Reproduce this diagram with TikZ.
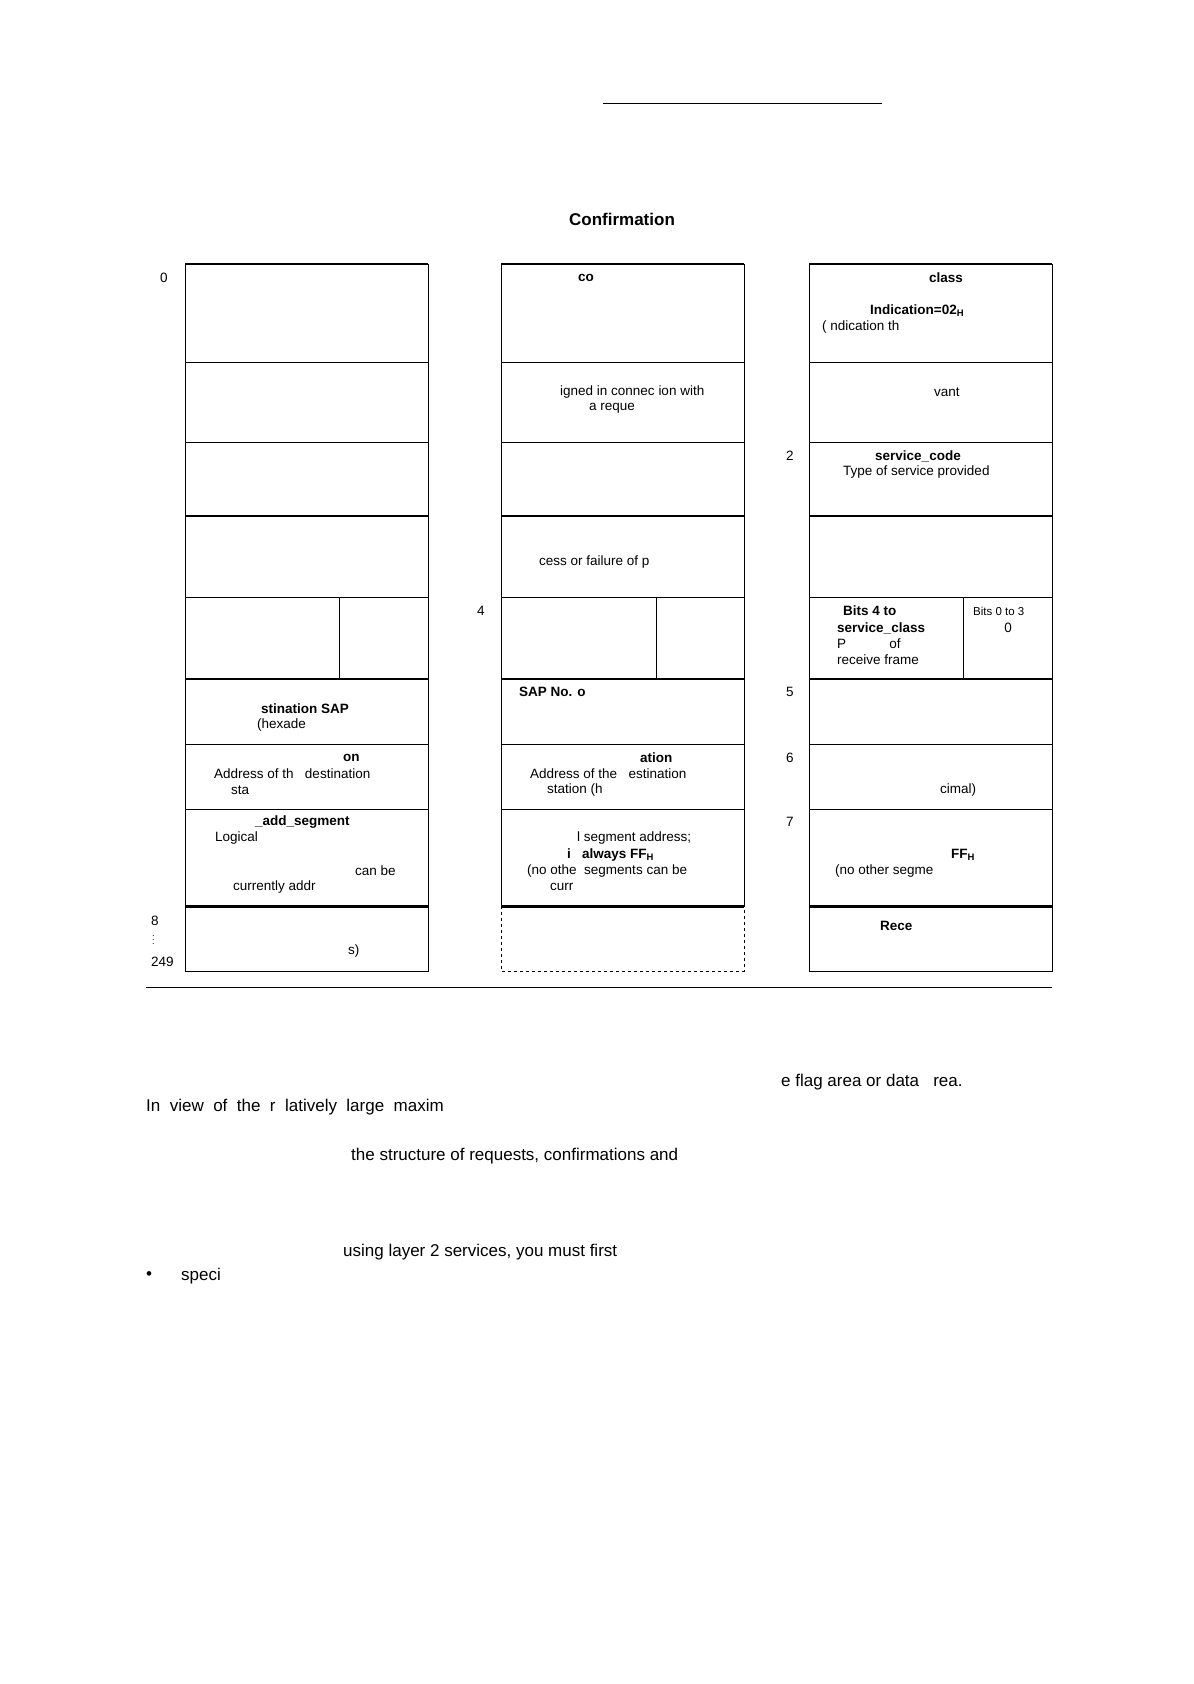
\documentclass[tikz,border=0pt]{standalone}
\usepackage{fontspec}
\setmainfont{Liberation Sans}
\begin{document}
\begin{tikzpicture}[x=1pt,y=-1pt,
 t/.style={anchor=west,inner sep=0pt,font=\fontsize{13.5}{16}\selectfont},
 b/.style={t,font=\fontsize{13.5}{16}\selectfont\bfseries},
 s/.style={anchor=west,inner sep=0pt,font=\fontsize{11.5}{14}\selectfont},
 body/.style={anchor=west,inner sep=0pt,font=\fontsize{17}{20}\selectfont},
 thin/.style={line width=0.8pt},
 thick2/.style={line width=1.6pt},
 thick3/.style={line width=3pt}]
\useasboundingbox (0,0) rectangle (1194,1684);
\draw[thin] (603,103) -- (882,103);
\node[inner sep=0pt,font=\fontsize{17}{20}\selectfont\bfseries] (title) at (622,219) {Confirmation};
% columns
\foreach \l/\r in {185/428,501/744,809/1052}{
 \draw[thin] (\l,264) -- (\l,906);
 \draw[thin] (\r,264) -- (\r,906);
 \draw[thick2] (\l,264) -- (\r,264);
 \draw[thin] (\l,362) -- (\r,362);
 \draw[thin] (\l,442) -- (\r,442);
 \draw[thick2] (\l,516) -- (\r,516);
 \draw[thin] (\l,597) -- (\r,597);
 \draw[thick2] (\l,679) -- (\r,679);
 \draw[thin] (\l,744) -- (\r,744);
 \draw[thin] (\l,809) -- (\r,809);
 \draw[thick3] (\l,906) -- (\r,906);
}
\draw[thin] (185,906) rectangle (428,971);
\draw[thin,dashed] (501,906) rectangle (744,971);
\draw[thin] (809,906) rectangle (1052,971);
\draw[thin] (339,597) -- (339,679);
\draw[thin] (656,597) -- (656,679);
\draw[thin] (963,597) -- (963,679);
\draw[thin] (146,987) -- (1052,987);
% row numbers
\node[t] (n0) at (160,278) {0};
\node[t] (n4) at (477,611) {4};
\node[t] (n2) at (786,456) {2};
\node[t] (n5) at (786,692) {5};
\node[t] (n6) at (786,758) {6};
\node[t] (n7) at (786,822) {7};
\node[t] (n8) at (151,921) {8};
\node[t] (nd) at (152,937) {\fontsize{9}{9}\selectfont$\vdots$};
\node[t] (n249) at (151,962) {249};
% col1
\node[b] (a1) at (261,709) {stination SAP};
\node[t] (a2) at (257,725) {(hexade};
\node[b] (a3) at (343,758) {on};
\node[t] (a4) at (214,774) {Address of th\ \ \ destination};
\node[t] (a5) at (231,790) {sta};
\node[b] (a6) at (255,822) {\_add\_segment};
\node[t] (a7) at (215,838) {Logical};
\node[t] (a8) at (355,871) {can be};
\node[t] (a9) at (233,887) {currently addr};
\node[t] (a10) at (348,951) {s)};
% col2
\node[b] (c1) at (578,278) {co};
\node[t] (c2) at (560,392) {igned in connec ion with};
\node[t] (c3) at (589,408) {a reque};
\node[t] (c4) at (539,562) {cess or failure of p};
\node[b] (c5) at (519,692) {SAP No. o};
\node[b] (c6) at (640,758) {ation};
\node[t] (c7) at (530,774) {Address of the\ \ \ estination};
\node[t] (c8) at (547,790) {station (h};
\node[t] (c9) at (577,838) {l segment address;};
\node[b] (c10) at (567,855) {i\ \ \ always FF$_{\mathbf{H}}$};
\node[t] (c11) at (527,871) {(no othe\ \ segments can be};
\node[t] (c12) at (550,887) {curr};
% col3
\node[b] (d1) at (929,278) {class};
\node[b] (d2) at (870,311) {Indication=02$_{\mathbf{H}}$};
\node[t] (d3) at (822,327) {( ndication th};
\node[t] (d4) at (934,392) {vant};
\node[b] (d5) at (875,456) {service\_code};
\node[t] (d6) at (843,472) {Type of service provided};
\node[b] (d7) at (843,611) {Bits 4 to};
\node[b] (d8) at (837,628) {service\_class};
\node[t] (d9) at (837,644) {P\hspace{3.2em}of};
\node[t] (d10) at (837,660) {receive frame};
\node[s] (d11) at (973,611) {Bits 0 to 3};
\node[t,anchor=center] (d12) at (1008,628) {0};
\node[t] (d13) at (940,790) {cimal)};
\node[b] (d14) at (951,855) {FF$_{\mathbf{H}}$};
\node[t] (d15) at (835,871) {(no other segme};
\node[b] (d16) at (880,926) {Rece};
% body
\node[body] (p1) at (781,1082) {e flag area or data\ \ \ rea.};
\node[body] (p2) at (146,1107) {In\ \ view\ \ of\ \ the\ \ r\ \ latively\ \ large\ \ maxim};
\node[body] (p3) at (351,1156) {the structure of requests, confirmations and};
\node[body] (p4) at (343,1252) {using layer 2 services, you must first};
\node[body] (p5) at (146,1276) {\textbullet};
\node[body] (p6) at (181,1276) {speci};
\end{tikzpicture}
\end{document}
